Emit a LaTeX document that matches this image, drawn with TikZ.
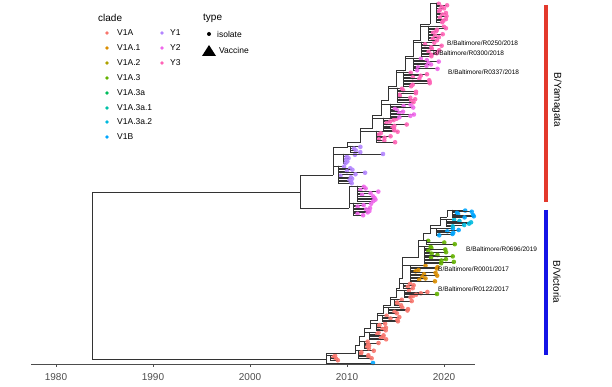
\documentclass[tikz,border=0pt]{standalone}
\usepackage{fontspec}
\setmainfont{Liberation Sans}
\usetikzlibrary{positioning}
\definecolor{CladeVA}{HTML}{F8766D}
\definecolor{CladeVAone}{HTML}{DB8E00}
\definecolor{CladeVAtwo}{HTML}{AEA200}
\definecolor{CladeVAthree}{HTML}{64B200}
\definecolor{CladeVAthreeA}{HTML}{00BD5C}
\definecolor{CladeVAthreeAone}{HTML}{00C1A7}
\definecolor{CladeVAthreeAtwo}{HTML}{00BADE}
\definecolor{CladeVB}{HTML}{00A6FF}
\definecolor{CladeYone}{HTML}{B385FF}
\definecolor{CladeYtwo}{HTML}{EF67EB}
\definecolor{CladeYthree}{HTML}{FF63B6}
\definecolor{TreeLine}{HTML}{333333}
\definecolor{AxisGrey}{HTML}{4D4D4D}
\definecolor{BarRed}{HTML}{E3392C}
\definecolor{BarBlue}{HTML}{1414E6}
\tikzset{
  branch/.style={draw=TreeLine, line width=0.75pt},
  legtitle/.style={anchor=west, inner sep=0pt, font=\fontsize{10}{11}\selectfont},
  legtext/.style={anchor=west, inner sep=0pt, font=\fontsize{8.5}{10}\selectfont},
  tiplabel/.style={anchor=west, inner sep=0pt, font=\fontsize{6.5}{7}\selectfont},
  yearlabel/.style={inner sep=0pt, text=AxisGrey, font=\fontsize{10}{11}\selectfont},
  lineagelabel/.style={rotate=-90, inner sep=0pt, font=\fontsize{10}{11}\selectfont},
  lineagebar/.style={line width=4pt}
}
\newcommand{\clump}[8]{%
  \draw[branch] (#1,#2) |- (#3,#4);
  \foreach \k in {1,...,#6}{
    \pgfmathsetmacro{\tipy}{#4+(\k-0.5)*#8/#6}
    \pgfmathsetmacro{\tipx}{#3+2+rnd*#7}
    \draw[branch] (#3,#4) |- (\tipx,\tipy);
    \fill[#5, opacity=0.9] (\tipx,\tipy) circle[radius=2.3];
  }}

\begin{document}
\begin{tikzpicture}[x=1pt, y=-1pt]
  \useasboundingbox (0,0) rectangle (612,387);
  \pgfmathsetseed{42}

  \node[legtitle] (cladetitle) at (98,18) {clade};
  \foreach \lab/\col/\yy in {V1A/CladeVA/33, V1A.1/CladeVAone/48, V1A.2/CladeVAtwo/63,
      V1A.3/CladeVAthree/78, V1A.3a/CladeVAthreeA/93, V1A.3a.1/CladeVAthreeAone/108,
      V1A.3a.2/CladeVAthreeAtwo/122, V1B/CladeVB/137}{
    \fill[\col] (107,\yy) circle[radius=1.8];
    \node[legtext] (leg\col) at (117,\yy) {\lab};
  }
  \foreach \lab/\col/\yy in {Y1/CladeYone/33, Y2/CladeYtwo/48, Y3/CladeYthree/63}{
    \fill[\col] (162,\yy) circle[radius=1.8];
    \node[legtext] (leg\col) at (170,\yy) {\lab};
  }
  \node[legtitle] (typetitle) at (203,18) {type};
  \fill (209,34) circle[radius=2];
  \node[legtext] (isolate) at (217,34) {isolate};
  \fill (202,56) -- (216,56) -- (209,45) -- cycle;
  \node[legtext] (vaccine) at (219,50) {Vaccine};

  \draw[branch] (300,192) -- (92,192) -- (92,359) -- (326,359);
  \draw[branch] (333,175) -| (300,208) -- (349,208);

  \clump{349}{208}{357}{186}{CladeYtwo}{10}{20}{16}
  \clump{349}{208}{353}{203}{CladeYtwo}{9}{18}{13}
  \clump{333}{175}{338}{166}{CladeYone}{12}{28}{18}
  \clump{333}{175}{343}{154}{CladeYone}{6}{16}{10}
  \draw[branch] (343,154) -- (383,154);
  \fill[CladeYone, opacity=0.9] (383,154) circle[radius=2.3];

  \draw[branch] (333,175) |- (347,147) |- (360,142) |- (372,128) |- (381,115) |- (388,100)
    |- (396,86) |- (405,70) |- (413,56) |- (420,40) |- (430,24);
  \clump{347}{147}{350}{146}{CladeYone}{4}{12}{7}
  \clump{360}{142}{376}{131}{CladeYthree}{8}{22}{12}
  \clump{372}{128}{383}{118}{CladeYthree}{9}{22}{13}
  \clump{381}{115}{390}{104}{CladeYtwo}{10}{22}{14}
  \clump{388}{100}{397}{88}{CladeYthree}{10}{20}{15}
  \clump{396}{86}{403}{72}{CladeYthree}{10}{25}{15}
  \clump{405}{70}{413}{58}{CladeYtwo}{9}{25}{13}
  \clump{413}{56}{421}{42}{CladeYthree}{10}{22}{15}
  \clump{420}{40}{428}{26}{CladeYthree}{10}{16}{15}
  \clump{430}{24}{436}{3}{CladeYthree}{13}{10}{20}

  \draw[branch] (326,353) -- (326,363) -- (372,363);
  \fill[CladeVB, opacity=0.9] (373,363) circle[radius=2.3];
  \clump{326}{359}{330}{355}{CladeVA}{4}{8}{6}
  \draw[branch] (326,353) -- (355,353) |- (359,345) |- (364,336) |- (370,328) |- (377,320)
    |- (383,313) |- (390,305) |- (396,297) |- (399,288) |- (402,278) |- (418,257)
    |- (423,240) |- (430,233) |- (440,225) |- (447,217);
  \clump{355}{353}{358}{350}{CladeVA}{6}{14}{9}
  \clump{359}{345}{364}{341}{CladeVA}{6}{14}{8}
  \clump{364}{336}{369}{332}{CladeVA}{6}{16}{8}
  \clump{370}{328}{376}{323}{CladeVA}{6}{18}{8}
  \clump{377}{320}{382}{315}{CladeVA}{5}{16}{7}
  \clump{383}{313}{388}{307}{CladeVA}{5}{18}{7}
  \clump{390}{305}{394}{299}{CladeVA}{5}{16}{7}
  \clump{396}{297}{404}{290}{CladeVA}{6}{22}{8}
  \draw[branch] (404,294) -- (437,294);
  \fill[CladeVAthree, opacity=0.9] (437,294) circle[radius=2.3];
  \clump{399}{288}{403}{283}{CladeVA}{4}{10}{6}
  \clump{402}{278}{410}{265}{CladeVAone}{12}{26}{17}
  \clump{418}{257}{424}{246}{CladeVAthree}{13}{30}{18}
  \clump{423}{240}{426}{240}{CladeVAthree}{3}{30}{5}
  \clump{430}{233}{436}{228}{CladeVB}{6}{22}{8}
  \clump{440}{225}{446}{219}{CladeVAthreeAtwo}{6}{24}{8}
  \clump{447}{217}{452}{210}{CladeVB}{7}{20}{8}

  \node[tiplabel] (r0250) at (447,43) {B/Baltimore/R0250/2018};
  \node[tiplabel] (r0300) at (433,53) {B/Baltimore/R0300/2018};
  \node[tiplabel] (r0337) at (448,72) {B/Baltimore/R0337/2018};
  \node[tiplabel] (r0696) at (466,249) {B/Baltimore/R0696/2019};
  \node[tiplabel] (r0001) at (438,269) {B/Baltimore/R0001/2017};
  \node[tiplabel] (r0122) at (438,289) {B/Baltimore/R0122/2017};

  \draw[draw=AxisGrey, line width=0.7pt] (31,364) -- (475,364);
  \foreach \yr/\xx in {1980/56, 1990/153, 2000/250, 2010/347, 2020/444}{
    \draw[draw=AxisGrey, line width=0.7pt] (\xx,364) -- (\xx,367);
    \node[yearlabel] (yr\yr) at (\xx,377) {\yr};
  }

  \draw[lineagebar, BarRed] (546,5) -- (546,202);
  \draw[lineagebar, BarBlue] (546,210) -- (546,355);
  \node[lineagelabel] (yamagata) at (557,100) {B/Yamagata};
  \node[lineagelabel] (victoria) at (557,282) {B/Victoria};
\end{tikzpicture}
\end{document}
